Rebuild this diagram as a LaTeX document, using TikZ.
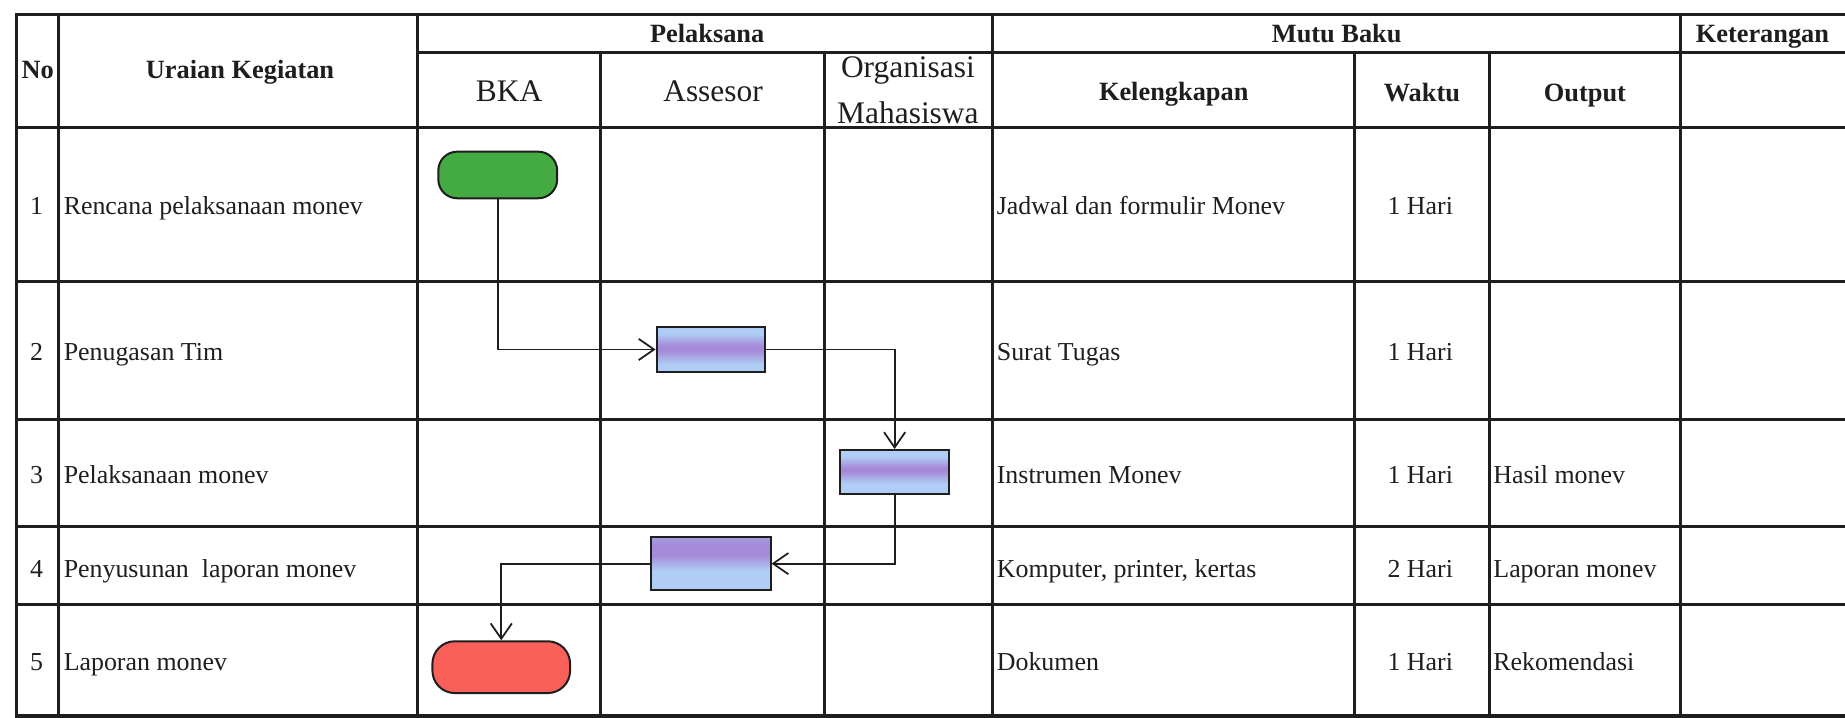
\documentclass[tikz,border=0pt]{standalone}
\usepackage{fontspec}
\setmainfont{Liberation Serif}
\usetikzlibrary{arrows.meta}

\definecolor{inkline}{RGB}{30,30,30}
\definecolor{startgreen}{RGB}{68,170,66}
\definecolor{stopred}{RGB}{250,96,90}
\definecolor{taskblue}{RGB}{176,206,245}
\definecolor{taskpurple}{RGB}{164,138,216}

% vertical bands for the activity boxes (25bp = bottom edge, 75bp = top edge)
\pgfdeclareverticalshading{bandmid}{100bp}{color(0bp)=(taskblue); color(33bp)=(taskblue); color(49bp)=(taskpurple); color(54bp)=(taskpurple); color(68bp)=(taskblue); color(100bp)=(taskblue)}
\pgfdeclareverticalshading{bandhigh}{100bp}{color(0bp)=(taskblue); color(37bp)=(taskblue); color(51bp)=(taskpurple); color(55bp)=(taskpurple); color(68bp)=(taskblue); color(100bp)=(taskblue)}
\pgfdeclareverticalshading{bandtop}{100bp}{color(0bp)=(taskblue); color(43bp)=(taskblue); color(58bp)=(taskpurple); color(68bp)=(taskpurple); color(75bp)=(taskpurple!75!taskblue); color(100bp)=(taskpurple!75!taskblue)}

\begin{document}
\begin{tikzpicture}[x=1pt,y=-1pt,
  rule/.style={draw=inkline, line width=2.6pt, line cap=rect},
  body/.style={font=\fontsize{22}{26}\selectfont, inner sep=0pt, text=inkline},
  head/.style={font=\fontsize{22.4}{26}\selectfont\bfseries, inner sep=0pt, text=inkline},
  lane/.style={font=\fontsize{26.7}{30}\selectfont, inner sep=0pt, text=inkline},
  terminal/.style={draw=inkline, line width=1.7pt, inner sep=0pt},
  task/.style={draw=inkline, line width=1.7pt, inner sep=0pt, shade},
  conn/.style={draw=inkline, line width=1.5pt, -{Straight Barb[length=13pt,width=18pt]}}
]
\useasboundingbox (0,0) rectangle (1568,610);

% ---- table rules ----
\draw[rule] (14,12.5) -- (1575,12.5);
\draw[rule] (355,44.5) -- (1575,44.5);
\foreach \y in {108,239.5,356.5,447.5,514,608.5}
  \draw[rule] (14,\y) -- (1575,\y);
\foreach \x in {14,50,355,843.5,1428.5}
  \draw[rule] (\x,12.5) -- (\x,608.5);
\foreach \x in {510,701,1151,1266}
  \draw[rule] (\x,44.5) -- (\x,608.5);

% ---- header ----
\node[head, anchor=base] (hno) at (32,66.6) {No};
\node[head, anchor=base] (hur) at (204,66.6) {Uraian Kegiatan};
\node[head, anchor=base] (hpel) at (601,36) {Pelaksana};
\node[head, anchor=base] (hmutu) at (1136,36) {Mutu Baku};
\node[head, anchor=base west] (hket) at (1441,36.5) {Keterangan};
\node[lane, anchor=base] (lbka) at (432.6,86.4) {BKA};
\node[lane, anchor=base] (lass) at (606,86.4) {Assesor};
\node[lane, anchor=base] (lorg1) at (771.6,66) {Organisasi};
\node[lane, anchor=base] (lorg2) at (771.6,105) {Mahasiswa};
\node[head, anchor=base] (hkel) at (997.5,85.5) {Kelengkapan};
\node[head, anchor=base] (hwak) at (1208.4,86) {Waktu};
\node[head, anchor=base] (hout) at (1347,86) {Output};

% ---- rows ----
\node[body, anchor=base] (n1) at (31,182.5) {1};
\node[body, anchor=base] (n2) at (31,306) {2};
\node[body, anchor=base] (n3) at (31,411) {3};
\node[body, anchor=base] (n4) at (31,490.5) {4};
\node[body, anchor=base] (n5) at (31,570) {5};

\node[body, anchor=base west] (u1) at (54,182.5) {Rencana pelaksanaan monev};
\node[body, anchor=base west] (u2) at (54,306) {Penugasan Tim};
\node[body, anchor=base west] (u3) at (54,411) {Pelaksanaan monev};
\node[body, anchor=base west] (u4) at (54,490.5) {Penyusunan\ \ laporan monev};
\node[body, anchor=base west] (u5) at (54,570) {Laporan monev};

\node[body, anchor=base west] (k1) at (847,182.5) {Jadwal dan formulir Monev};
\node[body, anchor=base west] (k2) at (847,306) {Surat Tugas};
\node[body, anchor=base west] (k3) at (847,411) {Instrumen Monev};
\node[body, anchor=base west] (k4) at (847,490.5) {Komputer, printer, kertas};
\node[body, anchor=base west] (k5) at (847,570) {Dokumen};

\node[body, anchor=base] (w1) at (1207,182.5) {1 Hari};
\node[body, anchor=base] (w2) at (1207,306) {1 Hari};
\node[body, anchor=base] (w3) at (1207,411) {1 Hari};
\node[body, anchor=base] (w4) at (1207,490.5) {2 Hari};
\node[body, anchor=base] (w5) at (1207,570) {1 Hari};

\node[body, anchor=base west] (o3) at (1269,411) {Hasil monev};
\node[body, anchor=base west] (o4) at (1269,490.5) {Laporan monev};
\node[body, anchor=base west] (o5) at (1269,570) {Rekomendasi};

% ---- flow ----
\node[terminal, fill=startgreen, rounded corners=16pt, minimum width=101pt, minimum height=39.6pt] (start) at (423,148.7) {};
\node[task, shading=bandmid, minimum width=92pt, minimum height=37.7pt] (t2) at (604,297) {};
\node[task, shading=bandhigh, minimum width=92.8pt, minimum height=37.7pt] (t3) at (760.3,401.3) {};
\node[task, shading=bandtop, minimum width=101.7pt, minimum height=44.8pt] (t4) at (604,479) {};
\node[terminal, fill=stopred, rounded corners=19pt, minimum width=117pt, minimum height=44pt] (stop) at (426,567) {};

\draw[conn] (start.south) |- (t2.west);
\draw[conn] (t2.east) -| (t3.north);
\draw[conn] (t3.south) |- (t4.east);
\draw[conn] (t4.west) -| (stop.north);
\end{tikzpicture}
\end{document}
